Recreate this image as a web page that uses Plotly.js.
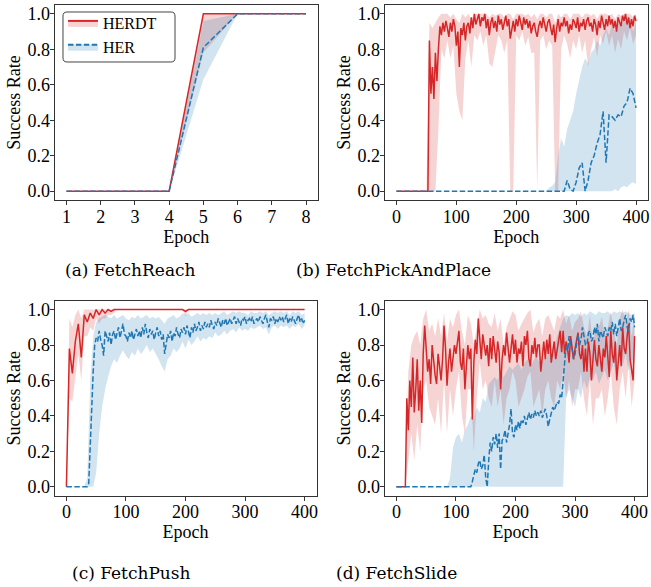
<!DOCTYPE html>
<html>
<head>
<meta charset="utf-8">
<script src="https://cdn.plot.ly/plotly-3.0.1.min.js"></script>
<style>html,body{margin:0;padding:0;background:#fff;}#chart{width:651px;height:587px;}</style>
</head>
<body>
<div id="chart"></div>
<script>
// ---------------- DATA ----------------
const reachEpochs = [1,2,3,4,5,6,7,8];
const reachHerdtMean = [0,0,0,0,1,1,1,1];
const reachHerdtLo   = [0,0,0,0,0.78,1,1,1];
const reachHerdtHi   = [0,0,0,0,1,1,1,1];
const reachHerMean   = [0,0,0,0,0.81,1,1,1];
const reachHerLo     = [0,0,0,0,0.63,1,1,1];
const reachHerHi     = [0,0,0,0,0.96,1,1,1];

// coarse epoch grid (bands and smoother curves)
const epochs = [
0,5,10,15,20,25,30,35,40,45,
50,55,60,65,70,75,80,85,90,95,
100,105,110,115,120,125,130,135,140,145,
150,155,160,165,170,175,180,185,190,195,
200,205,210,215,220,225,230,235,240,245,
250,255,260,265,270,275,280,285,290,295,
300,305,310,315,320,325,330,335,340,345,
350,355,360,365,370,375,380,385,390,395,
400];
// fine epoch grid (noisy mean curves)
const epochsFine = [
0,2.5,5,7.5,10,12.5,15,17.5,20,22.5,25,27.5,30,32.5,35,37.5,
40,42.5,45,47.5,50,52.5,55,57.5,60,62.5,65,67.5,70,72.5,75,77.5,
80,82.5,85,87.5,90,92.5,95,97.5,100,102.5,105,107.5,110,112.5,115,117.5,
120,122.5,125,127.5,130,132.5,135,137.5,140,142.5,145,147.5,150,152.5,155,157.5,
160,162.5,165,167.5,170,172.5,175,177.5,180,182.5,185,187.5,190,192.5,195,197.5,
200,202.5,205,207.5,210,212.5,215,217.5,220,222.5,225,227.5,230,232.5,235,237.5,
240,242.5,245,247.5,250,252.5,255,257.5,260,262.5,265,267.5,270,272.5,275,277.5,
280,282.5,285,287.5,290,292.5,295,297.5,300,302.5,305,307.5,310,312.5,315,317.5,
320,322.5,325,327.5,330,332.5,335,337.5,340,342.5,345,347.5,350,352.5,355,357.5,
360,362.5,365,367.5,370,372.5,375,377.5,380,382.5,385,387.5,390,392.5,395,397.5,
400];

// FetchPickAndPlace
const pickHerdtMean = [
0,0,0,0,0,0,0,0,0,0,0,0,0,0,0,0,
0,0,0,0,0,0,0.85,0.55,0.7,0.52,0.78,0.62,0.8,0.93,0.88,0.95,
0.9,0.96,0.92,0.87,0.95,0.9,0.97,0.93,0.82,0.9,0.7,0.92,0.88,0.95,0.85,0.93,
0.95,0.89,0.98,0.92,1.0,0.94,0.97,1.0,0.93,0.98,0.96,1.0,0.92,0.97,0.88,0.95,
0.98,0.92,0.96,0.9,0.99,0.94,0.97,0.91,0.95,0.99,0.93,0.97,0.86,0.92,0.96,0.9,
0.97,0.93,0.99,0.95,0.91,0.98,0.94,0.97,0.92,0.96,0.89,0.93,0.95,0.9,0.87,0.93,
0.96,0.92,0.98,0.94,0.9,0.95,0.97,0.92,0.88,0.94,0.84,0.92,0.97,0.9,0.95,0.93,
0.98,0.93,0.96,0.89,0.94,0.91,0.97,0.95,0.92,0.98,0.9,0.95,0.93,0.97,0.91,0.96,
0.98,0.93,0.95,0.9,0.97,0.94,0.88,0.96,0.92,0.99,0.95,0.91,0.97,0.93,0.99,0.94,
0.97,0.92,0.96,0.9,0.98,0.95,0.93,0.99,0.96,1.0,0.94,0.98,0.92,0.97,0.93,0.99,
0.96];
const pickHerdtLo = [
0,0,0,0,0,0,0,0,0,0,
0,0,0,0,0.35,0.8,0.75,0.85,0.75,0.82,
0.55,0.45,0.4,0.75,0.85,0.7,0.88,0.85,0.9,0.82,
0.88,0.72,0.7,0.8,0.88,0.85,0.78,0.85,0.0,0.0,
0.88,0.85,0.9,0.82,0.87,0.78,0.78,0.0,0.85,0.88,
0.8,0.85,0.82,0.0,0.0,0.8,0.88,0.83,0.75,0.85,
0.8,0.88,0.78,0.85,0.7,0.8,0.87,0.76,0.88,0.83,
0.9,0.82,0.88,0.78,0.86,0.8,0.9,0.85,0.92,0.83,
0.88];
const pickHerdtHi = [
0,0,0,0,0,0,0,0,0,0,
0,0.95,0.92,0.95,0.98,1.0,1.0,1.0,0.98,1.0,
0.97,0.95,1.0,0.98,1.0,0.97,1.0,1.0,1.0,1.0,
1.0,0.98,1.0,0.99,1.0,1.0,0.98,1.0,1.0,0.97,
1.0,1.0,1.0,0.99,1.0,0.98,1.0,0.97,1.0,1.0,
0.98,1.0,1.0,0.95,1.0,0.98,1.0,1.0,0.97,1.0,
1.0,1.0,0.98,1.0,1.0,0.99,1.0,0.97,1.0,1.0,
1.0,0.99,1.0,0.97,1.0,0.99,1.0,1.0,1.0,0.98,
1.0];
const pickHerMean = [
0,0,0,0,0,0,0,0,0,0,
0,0,0,0,0,0,0,0,0,0,
0,0,0,0,0,0,0,0,0,0,
0,0,0,0,0,0,0,0,0,0,
0,0,0,0,0,0,0,0,0,0,
0,0,0,0,0,0,0,0.06,0.01,0.0,
0.05,0.13,0.16,0.0,0.06,0.16,0.2,0.27,0.32,0.45,
0.16,0.43,0.42,0.4,0.43,0.42,0.48,0.5,0.58,0.55,
0.47];
const pickHerLo = [
0,0,0,0,0,0,0,0,0,0,
0,0,0,0,0,0,0,0,0,0,
0,0,0,0,0,0,0,0,0,0,
0,0,0,0,0,0,0,0,0,0,
0,0,0,0,0,0,0,0,0,0,
0,0,0,0,0,0,0,0,0,0,
0,0,0,0,0,0,0,0,0,0,
0,0,0,0.01,0,0.02,0.03,0.02,0.04,0.05,
0.04];
const pickHerHi = [
0,0,0,0,0,0,0,0,0,0,
0,0,0,0,0,0,0,0,0,0,
0,0,0,0,0,0,0,0,0,0,
0,0,0,0,0,0,0,0,0,0,
0,0,0,0,0,0,0,0,0,0,
0,0.02,0.03,0.05,0.2,0.3,0.25,0.35,0.4,0.45,
0.55,0.62,0.7,0.75,0.72,0.78,0.8,0.85,0.82,0.88,
0.92,0.88,0.95,0.9,0.96,0.93,0.97,0.95,0.98,0.9,
0.96];

// FetchPush
const pushHerdtMean = [
0,0.78,0.64,0.82,0.92,0.73,0.97,0.93,0.98,0.95,
1.0,0.97,1.0,0.98,1.0,0.99,1.0,1.0,1.0,1.0,
1,1,1,1,1,1,1,1,1,1,
1,1,1,1,1,1,1,1,1,1,
0.99,1,1,1,1,1,1,1,1,1,
1,1,1,1,1,1,1,1,1,1,
1,1,1,1,1,1,1,1,1,1,
1,1,1,1,1,1,1,1,1,1,
1];
const pushHerdtLo = [
0,0.5,0.48,0.6,0.75,0.6,0.85,0.85,0.9,0.88,
0.95,0.92,0.95,0.95,0.97,0.97,0.98,1.0,1.0,1.0,
1,1,1,1,1,1,1,1,1,1,
1,1,1,1,1,1,1,1,1,1,
0.96,1,1,1,1,1,1,1,1,1,
1,1,1,1,1,1,1,1,1,1,
1,1,1,1,1,1,1,1,1,1,
1,1,1,1,1,1,1,1,1,1,
1];
const pushHerdtHi = [
0,0.95,0.9,0.97,1.0,0.95,1.0,1.0,1.0,1.0,
1,1,1,1,1,1,1,1,1,1,
1,1,1,1,1,1,1,1,1,1,
1,1,1,1,1,1,1,1,1,1,
1,1,1,1,1,1,1,1,1,1,
1,1,1,1,1,1,1,1,1,1,
1,1,1,1,1,1,1,1,1,1,
1,1,1,1,1,1,1,1,1,1,
1];
const pushHerMean = [
0,0,0,0,0,0,0,0,0,0,0,0,0,0,0,0.02,
0.25,0.45,0.65,0.8,0.84,0.82,0.88,0.83,0.8,0.74,0.88,0.85,0.82,0.87,0.8,0.86,
0.88,0.83,0.86,0.9,0.84,0.88,0.92,0.86,0.85,0.82,0.87,0.84,0.88,0.83,0.86,0.89,
0.85,0.88,0.84,0.9,0.86,0.92,0.87,0.84,0.89,0.86,0.88,0.83,0.87,0.9,0.85,0.88,
0.83,0.86,0.75,0.8,0.86,0.84,0.88,0.82,0.87,0.85,0.9,0.86,0.84,0.89,0.87,0.9,
0.86,0.91,0.88,0.84,0.9,0.87,0.92,0.88,0.9,0.93,0.88,0.91,0.89,0.93,0.9,0.92,
0.9,0.94,0.91,0.89,0.93,0.91,0.95,0.92,0.9,0.94,0.92,0.95,0.91,0.93,0.95,0.92,
0.94,0.96,0.92,0.95,0.93,0.91,0.95,0.94,0.96,0.92,0.94,0.95,0.93,0.96,0.92,0.94,
0.95,0.93,0.96,0.94,0.92,0.95,0.97,0.93,0.9,0.95,0.94,0.96,0.92,0.95,0.93,0.96,
0.94,0.96,0.93,0.95,0.97,0.92,0.95,0.93,0.96,0.94,0.92,0.95,0.97,0.93,0.95,0.92,
0.94];
const pushHerLo = [
0,0,0,0,0,0,0,0,0,0,
0.08,0.3,0.45,0.55,0.62,0.68,0.72,0.7,0.74,0.77,
0.74,0.72,0.76,0.74,0.78,0.75,0.77,0.8,0.76,0.78,
0.75,0.72,0.68,0.65,0.72,0.74,0.78,0.76,0.78,0.82,
0.78,0.83,0.8,0.82,0.85,0.82,0.84,0.83,0.85,0.84,
0.87,0.85,0.86,0.88,0.86,0.88,0.89,0.87,0.9,0.88,
0.89,0.88,0.9,0.89,0.9,0.91,0.89,0.9,0.86,0.9,
0.91,0.89,0.91,0.9,0.91,0.89,0.91,0.9,0.92,0.89,
0.91];
const pushHerHi = [
0,0,0,0,0,0,0,0.05,0.6,0.85,
0.93,0.95,0.96,0.97,0.96,0.95,0.97,0.95,0.96,0.97,
0.95,0.94,0.96,0.95,0.97,0.95,0.96,0.97,0.95,0.96,
0.95,0.96,0.94,0.92,0.95,0.96,0.97,0.95,0.96,0.98,
0.97,0.98,0.96,0.97,0.98,0.97,0.98,0.97,0.98,0.97,
0.98,0.97,0.98,0.99,0.97,0.98,0.99,0.98,0.99,0.98,
0.98,0.97,0.99,0.98,0.98,0.99,0.98,0.99,0.97,0.98,
0.99,0.98,0.99,0.98,0.99,0.97,0.99,0.98,0.99,0.97,
0.98];

// FetchSlide
const slideHerdtMean = [
0,0,0,0,0,0,0,0.5,0.32,0.6,0.45,0.73,0.42,0.55,0.72,0.43,
0.6,0.36,0.75,0.91,0.78,0.65,0.72,0.58,0.8,0.7,0.63,0.58,0.75,0.68,0.6,0.72,
0.91,0.78,0.57,0.7,0.78,0.65,0.72,0.8,0.75,0.82,0.88,0.7,0.66,0.78,0.55,0.68,
0.8,0.72,0.78,0.38,0.7,0.83,0.75,0.95,0.8,0.72,0.86,0.78,0.74,0.8,0.68,0.84,
0.72,0.85,0.78,0.7,0.82,0.76,0.55,0.72,0.8,0.74,0.87,0.8,0.7,0.78,0.86,0.75,
0.83,0.7,0.78,0.75,0.82,0.68,0.85,0.8,0.88,0.72,0.68,0.8,0.75,0.84,0.73,0.8,
0.8,0.65,0.76,0.82,0.72,0.83,0.75,0.86,0.7,0.78,0.82,0.72,0.78,0.84,0.88,0.76,
0.88,0.75,0.82,0.78,0.7,0.85,0.77,0.72,0.78,0.84,0.87,0.75,0.72,0.8,0.65,0.78,
0.65,0.82,0.75,0.6,0.75,0.83,0.72,0.68,0.8,0.74,0.65,0.78,0.73,0.85,0.7,0.62,
0.88,0.75,0.7,0.82,0.6,0.72,0.8,0.68,0.9,0.78,0.75,0.85,0.92,0.72,0.65,0.6,
0.85];
const slideHerdtLo = [
0,0,0,0,0.15,0.3,0.15,0.35,0.2,0.55,
0.6,0.45,0.4,0.35,0.5,0.3,0.6,0.3,0.55,0.4,
0.55,0.65,0.4,0.3,0.55,0.55,0.2,0.5,0.7,0.55,
0.6,0.5,0.45,0.6,0.45,0.55,0.35,0.5,0.55,0.65,
0.6,0.45,0.5,0.55,0.62,0.65,0.45,0.5,0.55,0.4,
0.55,0.6,0.5,0.45,0.6,0.55,0.65,0.5,0.6,0.45,
0.55,0.55,0.65,0.5,0.4,0.6,0.35,0.5,0.5,0.55,
0.4,0.5,0.65,0.45,0.35,0.55,0.65,0.5,0.7,0.45,
0.6];
const slideHerdtHi = [
0,0,0,0,0.65,0.8,0.85,0.88,0.8,0.95,
1.0,0.88,0.92,0.85,0.95,0.85,0.98,0.82,0.95,0.9,
0.97,1.0,0.88,0.8,0.97,0.92,0.8,0.9,1.0,0.95,
0.97,0.92,0.9,0.98,0.88,0.95,0.8,0.9,0.95,0.99,
0.97,0.88,0.92,0.95,0.98,1.0,0.87,0.92,0.95,0.85,
0.95,0.97,0.92,0.88,0.97,0.95,1.0,0.92,0.97,0.88,
0.93,0.95,0.99,0.9,0.85,0.97,0.8,0.92,0.9,0.96,
0.85,0.9,0.99,0.88,0.8,0.95,1.0,0.92,1.0,0.85,
0.97];
const slideHerMean = [
0,0,0,0,0,0,0,0,0,0,0,0,0,0,0,0,
0,0,0,0,0,0,0,0,0,0,0,0,0,0,0,0,
0,0,0,0,0,0,0,0,0,0,0,0,0,0,0,0,
0,0,0,0.03,0.06,0.1,0.08,0.13,0.15,0.1,0.12,0.18,0.05,0.0,0.15,0.25,
0.2,0.28,0.24,0.3,0.22,0.3,0.1,0.26,0.28,0.32,0.25,0.3,0.35,0.44,0.3,0.28,
0.35,0.32,0.37,0.33,0.38,0.36,0.4,0.35,0.38,0.42,0.38,0.41,0.39,0.43,0.4,0.42,
0.4,0.43,0.39,0.42,0.44,0.4,0.34,0.38,0.42,0.45,0.43,0.46,0.48,0.47,0.52,0.5,
0.58,0.7,0.8,0.76,0.85,0.8,0.78,0.72,0.75,0.82,0.86,0.8,0.83,0.9,0.85,0.8,
0.8,0.87,0.88,0.82,0.84,0.9,0.86,0.92,0.82,0.88,0.86,0.84,0.9,0.87,0.85,0.9,
0.88,0.93,0.86,0.92,0.85,0.9,0.95,0.88,0.9,0.94,0.97,0.9,0.88,0.95,0.93,0.97,
0.9];
const slideHerLo = [
0,0,0,0,0,0,0,0,0,0,
0,0,0,0,0,0,0,0,0,0,
0,0,0,0,0,0,0,0,0,0,
0,0,0,0,0,0,0,0,0,0,
0,0,0,0,0,0,0,0,0,0,
0,0,0,0,0,0,0,0.5,0.55,0.5,
0.45,0.55,0.5,0.6,0.55,0.62,0.6,0.65,0.58,0.62,
0.66,0.6,0.65,0.7,0.62,0.72,0.68,0.75,0.65,0.72,
0.7];
const slideHerHi = [
0,0,0,0,0,0,0,0,0,0,
0,0,0,0,0,0,0,0,0.05,0.22,
0.28,0.3,0.25,0.32,0.35,0.4,0.38,0.45,0.42,0.5,
0.48,0.58,0.6,0.62,0.6,0.65,0.62,0.65,0.68,0.66,
0.68,0.7,0.66,0.7,0.72,0.68,0.71,0.74,0.7,0.73,
0.72,0.75,0.78,0.8,0.85,0.9,0.95,0.97,0.96,0.98,
0.97,0.98,0.96,0.98,0.97,0.99,0.98,0.97,0.99,0.98,
0.98,0.99,0.97,0.99,0.98,0.99,0.98,0.99,0.98,0.97,
0.98];

const seriesNames = ['HERDT','HER'];
const captions = ['(a) FetchReach','(b) FetchPickAndPlace','(c) FetchPush','(d) FetchSlide'];
const yTicks = [0,0.2,0.4,0.6,0.8,1.0];
const reachTicks = [1,2,3,4,5,6,7,8];
const longTicks = [0,100,200,300,400];

// ---------------- STYLE ----------------
const RED = '#d62728', BLUE = '#1f77b4';
const RED_FILL = 'rgba(214,39,40,0.2)', BLUE_FILL = 'rgba(31,119,180,0.2)';
const DASH = '5.5px,2.4px';

const traces = [];
function band(x, lo, hi, fill, ax) {
  traces.push({x:x, y:lo, xaxis:'x'+ax, yaxis:'y'+ax, mode:'lines', line:{width:0, color:fill},
               showlegend:false, hoverinfo:'skip'});
  traces.push({x:x, y:hi, xaxis:'x'+ax, yaxis:'y'+ax, mode:'lines', line:{width:0, color:fill},
               fill:'tonexty', fillcolor:fill, showlegend:false, hoverinfo:'skip'});
}
function line(x, y, color, dash, ax) {
  traces.push({x:x, y:y, xaxis:'x'+ax, yaxis:'y'+ax, mode:'lines',
               line:{color:color, width:1.5, dash:dash}, showlegend:false});
}
const panels = [
  {ax:'',  bx:reachEpochs, rx:reachEpochs, bxm:reachEpochs,
   r:[reachHerdtMean,reachHerdtLo,reachHerdtHi], b:[reachHerMean,reachHerLo,reachHerHi]},
  {ax:'2', bx:epochs, rx:epochsFine, bxm:epochs,
   r:[pickHerdtMean,pickHerdtLo,pickHerdtHi], b:[pickHerMean,pickHerLo,pickHerHi]},
  {ax:'3', bx:epochs, rx:epochs, bxm:epochsFine,
   r:[pushHerdtMean,pushHerdtLo,pushHerdtHi], b:[pushHerMean,pushHerLo,pushHerHi]},
  {ax:'4', bx:epochs, rx:epochsFine, bxm:epochsFine,
   r:[slideHerdtMean,slideHerdtLo,slideHerdtHi], b:[slideHerMean,slideHerLo,slideHerHi]}
];
panels.forEach(p => {
  band(p.bx, p.r[1], p.r[2], RED_FILL, p.ax);
  band(p.bx, p.b[1], p.b[2], BLUE_FILL, p.ax);
  line(p.rx, p.r[0], RED, 'solid', p.ax);
  line(p.bxm, p.b[0], BLUE, DASH, p.ax);
});
// legend entries
traces.push({x:[null], y:[null], mode:'lines', name:seriesNames[0], line:{color:RED, width:2},
             fill:'toself', fillcolor:RED_FILL, showlegend:true});
traces.push({x:[null], y:[null], mode:'lines', name:seriesNames[1], line:{color:BLUE, width:2, dash:DASH},
             fill:'toself', fillcolor:BLUE_FILL, showlegend:true});

const W = 651, H = 587;
const FONT = 'Liberation Serif, Times New Roman, serif';
function xax(l, r, range, ticks) {
  return {domain:[l/W, r/W], range:range, tickvals:ticks, ticktext:ticks.map(String),
          showline:true, mirror:true, linecolor:'#333', linewidth:1, ticks:'outside', ticklen:4,
          tickcolor:'#333', showgrid:false, zeroline:false, ticklabelstandoff:-4,
          tickfont:{family:FONT, size:18, color:'#000'},
          title:{text:'Epoch', font:{family:FONT, size:18, color:'#000'}, standoff:0}, fixedrange:true};
}
function yax(t, b) {
  return {domain:[1-b/H, 1-t/H], range:[-0.05,1.05], tickvals:yTicks, ticktext:yTicks.map(v=>v.toFixed(1)),
          showline:true, mirror:true, linecolor:'#333', linewidth:1, ticks:'outside', ticklen:4,
          tickcolor:'#333', showgrid:false, zeroline:false, ticklabelstandoff:-4,
          tickfont:{family:FONT, size:18, color:'#000'},
          title:{text:'Success Rate', font:{family:FONT, size:18, color:'#000'}, standoff:2}, fixedrange:true};
}
// legend frame (rounded, like the reference)
function px(x){return (x/W).toFixed(5);} function py(y){return (1-y/H).toFixed(5);}
const fx0=63, fx1=175, fy0=12, fy1=62, rr=4;
const framePath = 'M'+px(fx0+rr)+','+py(fy0)+' L'+px(fx1-rr)+','+py(fy0)+' Q'+px(fx1)+','+py(fy0)+' '+px(fx1)+','+py(fy0+rr)+
  ' L'+px(fx1)+','+py(fy1-rr)+' Q'+px(fx1)+','+py(fy1)+' '+px(fx1-rr)+','+py(fy1)+
  ' L'+px(fx0+rr)+','+py(fy1)+' Q'+px(fx0)+','+py(fy1)+' '+px(fx0)+','+py(fy1-rr)+
  ' L'+px(fx0)+','+py(fy0+rr)+' Q'+px(fx0)+','+py(fy0)+' '+px(fx0+rr)+','+py(fy0)+' Z';

const layout = {
  width:W, height:H, margin:{l:0,r:0,t:0,b:0}, paper_bgcolor:'#fff', plot_bgcolor:'#fff',
  xaxis: Object.assign(xax(54.5, 318, [0.65, 8.35], reachTicks), {anchor:'y'}),
  yaxis: Object.assign(yax(5, 200), {anchor:'x'}),
  xaxis2: Object.assign(xax(384.5, 648, [-20, 420], longTicks), {anchor:'y2'}),
  yaxis2: Object.assign(yax(5, 200), {anchor:'x2'}),
  xaxis3: Object.assign(xax(54.5, 316.5, [-20, 420], longTicks), {anchor:'y3'}),
  yaxis3: Object.assign(yax(300.7, 495.7), {anchor:'x3'}),
  xaxis4: Object.assign(xax(384.5, 646.5, [-20, 420], longTicks), {anchor:'y4'}),
  yaxis4: Object.assign(yax(300.7, 495.7), {anchor:'x4'}),
  showlegend:true,
  legend:{x:63/W, y:1-6/H, xanchor:'left', yanchor:'top', bgcolor:'rgba(0,0,0,0)',
          borderwidth:0, font:{family:FONT, size:16, color:'#000'},
          itemwidth:30, traceorder:'normal'},
  shapes:[{type:'path', xref:'paper', yref:'paper', path:framePath, layer:'above',
           line:{color:'#444', width:1}, fillcolor:'rgba(255,255,255,0.8)'}],
  annotations:[
    {text:captions[0], x:130/W, y:1-270/H},
    {text:captions[1], x:393/W, y:1-270/H},
    {text:captions[2], x:131/W, y:1-573/H},
    {text:captions[3], x:397/W, y:1-573/H}
  ].map(a => Object.assign(a, {xref:'paper', yref:'paper', showarrow:false, xanchor:'center', yanchor:'middle',
        font:{family:'DejaVu Serif, serif', size:17, color:'#000'}}))
};
Plotly.newPlot('chart', traces, layout, {staticPlot:true, displayModeBar:false});
</script>
</body>
</html>
